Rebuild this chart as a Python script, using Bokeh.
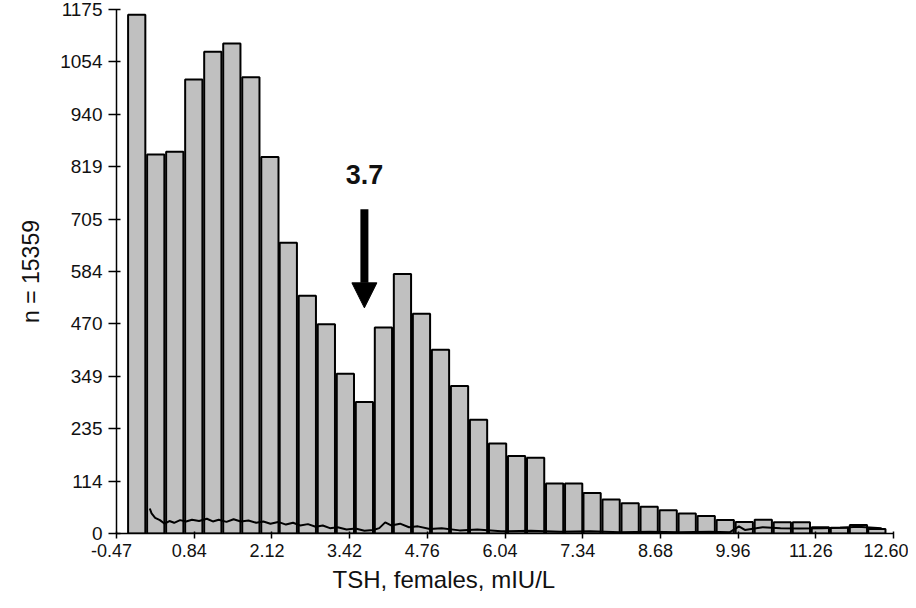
import numpy as np
from bokeh.plotting import figure
from bokeh.models import FixedTicker, Label, Arrow, NormalHead, ColumnDataSource, Range1d, Title
from bokeh.embed import file_html
from bokeh.resources import INLINE

# ---- data ----
bin_centers = [-0.13, 0.19, 0.51, 0.83, 1.15, 1.47, 1.79, 2.11, 2.42, 2.74,
               3.06, 3.38, 3.70, 4.02, 4.34, 4.66, 4.98, 5.30, 5.62, 5.94,
               6.26, 6.58, 6.90, 7.22, 7.53, 7.85, 8.17, 8.49, 8.81, 9.13,
               9.45, 9.77, 10.09, 10.41, 10.73, 11.05, 11.37, 11.69, 12.01, 12.32]
counts = [1163, 850, 856, 1018, 1080, 1099, 1023, 844, 652, 533,
          469, 358, 295, 462, 582, 493, 412, 331, 255, 202,
          174, 170, 112, 112, 91, 76, 68, 60, 52, 45,
          39, 30, 26, 31, 25, 25, 14, 13, 19, 10]

line_x = [0.09, 0.12, 0.18, 0.26, 0.34, 0.42, 0.50, 0.60, 0.70, 0.80,
          0.92, 1.05, 1.15, 1.25, 1.38, 1.50, 1.62, 1.75, 1.88, 2.00,
          2.12, 2.25, 2.38, 2.50, 2.62, 2.75, 2.88, 3.00, 3.12, 3.25,
          3.40, 3.55, 3.70, 3.85, 3.95, 4.05, 4.15, 4.30, 4.45, 4.60,
          4.80, 5.00, 5.30, 5.60, 6.00, 6.50, 7.00, 7.50, 8.00, 8.50,
          9.00, 9.50, 9.85, 10.00, 10.10, 10.40, 10.70, 11.00, 11.40, 11.70,
          12.00, 12.40]
line_y = [56, 45, 35, 30, 22, 28, 24, 30, 27, 31,
          28, 33, 27, 31, 26, 32, 27, 29, 24, 27,
          22, 26, 20, 24, 18, 21, 15, 18, 12, 14,
          9, 11, 6, 8, 12, 25, 18, 22, 14, 16,
          10, 12, 7, 9, 5, 6, 4, 5, 3, 4,
          3, 4, 3, 16, 8, 14, 12, 11, 12, 13,
          15, 12]

x_tick_labels = ["-0.47", "0.84", "2.12", "3.42", "4.76", "6.04",
                 "7.34", "8.68", "9.96", "11.26", "12.60"]
y_tick_labels = ["0", "114", "235", "349", "470", "584",
                 "705", "819", "940", "1054", "1175"]

x_min, x_max = -0.47, 12.60
y_max = 1175
cutoff = 3.7
cutoff_label = "3.7"
arrow_top, arrow_tip, label_y = 727, 506, 806

x_title = "TSH, females, mIU/L"
y_title = "n = 15359"

FONT = "Liberation Sans"
PAD = "\u00a0\u00a0"  # shifts the centred tick labels slightly left, as in the reference

p = figure(output_backend="svg", toolbar_location=None,
           width=908, height=592, sizing_mode="fixed",
           min_border_left=116, min_border_right=15,
           min_border_top=9, min_border_bottom=54,
           x_range=Range1d(x_min, x_max), y_range=Range1d(0, y_max),
           background_fill_color="white", border_fill_color="white")
p.outline_line_color = None
p.xgrid.visible = False
p.ygrid.visible = False

src = ColumnDataSource(dict(x=bin_centers, top=counts))
p.vbar(x="x", top="top", bottom=0, width=0.29, source=src,
       fill_color="#c0c0c0", line_color="black", line_width=2)

p.line(line_x, line_y, line_color="black", line_width=2)

# ticks
xt = [round(v, 6) for v in np.linspace(x_min, x_max, len(x_tick_labels))]
yt = [round(v, 6) for v in np.linspace(0, y_max, len(y_tick_labels))]
p.xaxis.ticker = FixedTicker(ticks=xt)
p.yaxis.ticker = FixedTicker(ticks=yt)
x_over = {v: s + PAD for v, s in zip(xt, x_tick_labels)}
x_over[xt[-1]] = x_tick_labels[-1]
p.xaxis.major_label_overrides = x_over
p.yaxis.major_label_overrides = {v: s for v, s in zip(yt, y_tick_labels)}

for ax in (p.xaxis[0], p.yaxis[0]):
    ax.axis_line_color = "black"
    ax.axis_line_width = 1.5
    ax.major_tick_line_color = "black"
    ax.major_tick_line_width = 1.5
    ax.minor_tick_line_color = None
    ax.major_label_text_font = FONT
    ax.major_label_text_color = "#111111"

p.yaxis.major_label_text_font_size = "19px"
p.xaxis.major_label_text_font_size = "18px"
p.yaxis.major_tick_out = 8
p.yaxis.major_tick_in = 4
p.yaxis.major_label_standoff = 6
p.xaxis.major_tick_out = 5
p.xaxis.major_tick_in = 2
p.xaxis.major_label_standoff = 2

p.yaxis.axis_label = y_title
p.yaxis.axis_label_text_font = FONT
p.yaxis.axis_label_text_font_style = "normal"
p.yaxis.axis_label_text_font_size = "23px"
p.yaxis.axis_label_text_color = "#111111"
p.yaxis.axis_label_standoff = 13

p.add_layout(Title(text=x_title, align="left", offset=216, standoff=0,
                   text_font=FONT, text_font_size="24px", text_font_style="normal",
                   text_color="#111111"), "below")

p.add_layout(Arrow(end=NormalHead(size=25, fill_color="black", line_color="black"),
                   x_start=cutoff, y_start=arrow_top, x_end=cutoff, y_end=arrow_tip,
                   line_width=8, line_color="black"))
p.add_layout(Label(x=cutoff, y=label_y, text=cutoff_label, text_font=FONT,
                   text_font_size="27px", text_font_style="bold",
                   text_color="#111111", text_align="center", text_baseline="middle"))

open("out.html", "w").write(file_html(p, INLINE))
